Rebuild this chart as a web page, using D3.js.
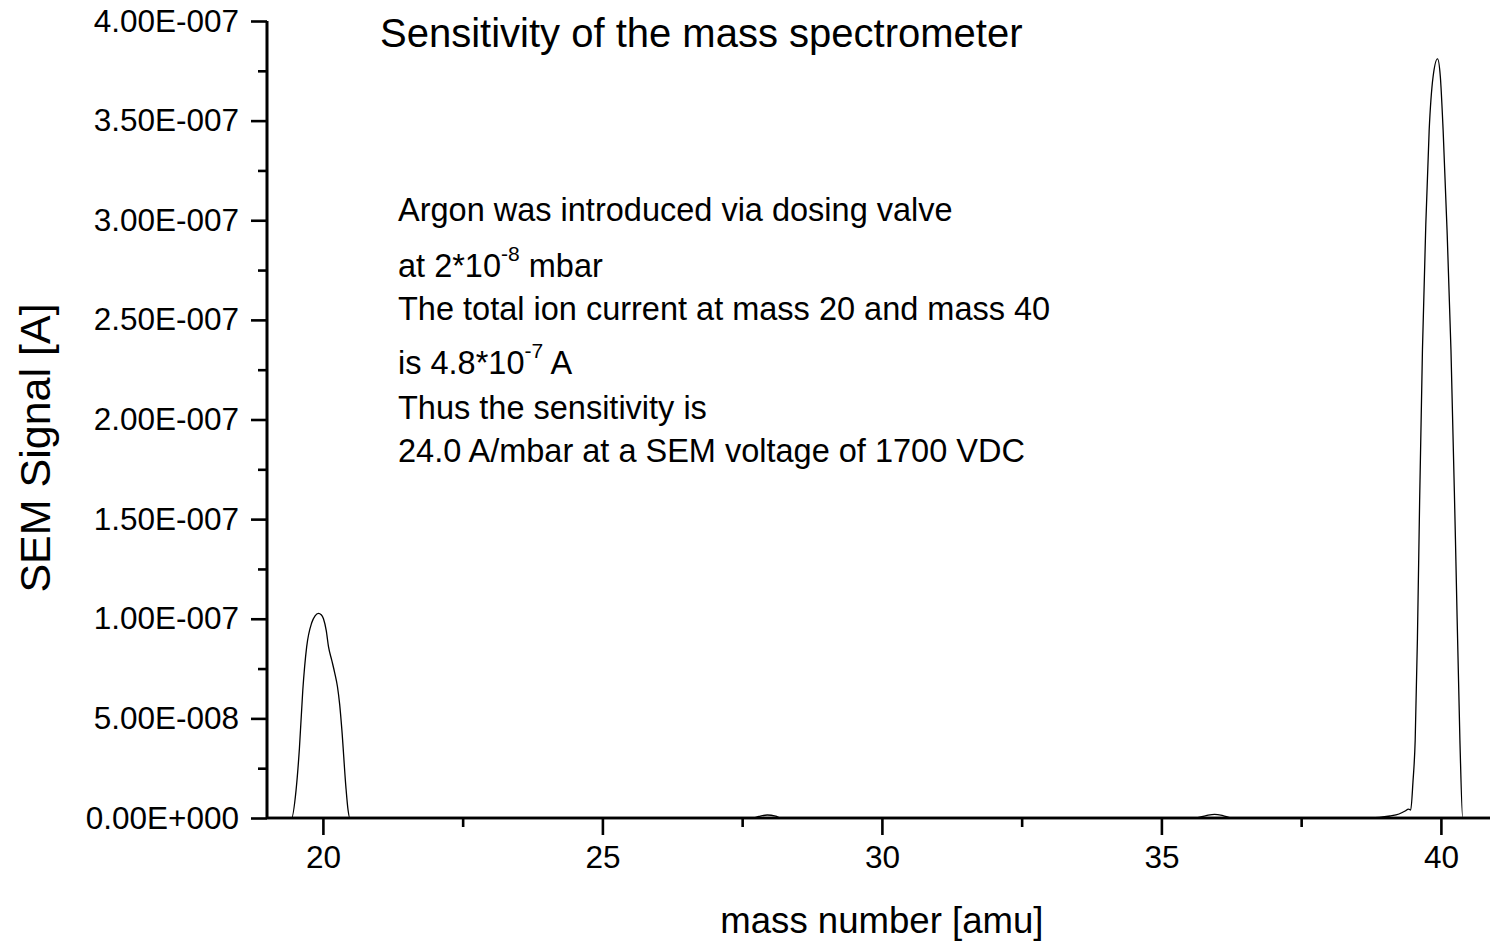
<!DOCTYPE html>
<html>
<head>
<meta charset="utf-8">
<script src="https://cdn.jsdelivr.net/npm/d3@7"></script>
<style>
  html, body { margin: 0; padding: 0; background: #fff; }
  svg { display: block; font-family: "Liberation Sans", Arial, sans-serif; }
</style>
</head>
<body>
<svg id="chart" width="1490" height="947"></svg>
<script>
// Mass scan, mass number [amu]
const mass = [
  19.00, 19.30, 19.44, 19.52, 19.58, 19.64, 19.71, 19.80, 19.86, 19.92, 19.97,
  20.01, 20.06, 20.10, 20.16, 20.21, 20.26, 20.30, 20.34, 20.41, 20.45, 20.48,
  21.50, 24.00, 27.00, 27.69, 27.80, 27.95, 28.10, 28.20, 30.00, 33.00, 35.60,
  35.80, 35.95, 36.10, 36.26, 37.50, 38.60, 38.90, 39.09, 39.25, 39.36, 39.42,
  39.46, 39.50, 39.54, 39.58, 39.62, 39.67, 39.73, 39.79, 39.86, 39.94, 39.99,
  40.04, 40.11, 40.18, 40.26, 40.34, 40.39, 40.70, 41.00
];
// SEM signal [A] at each mass
const signal = [
  0, 0, 0, 1.4e-8, 3.5e-8, 6.4e-8, 8.6e-8, 9.8e-8, 1.015e-7, 1.027e-7, 1.02e-7,
  1.0e-7, 9.4e-8, 8.6e-8, 7.9e-8, 7.3e-8, 6.6e-8, 5.7e-8, 4.4e-8, 1.6e-8, 4e-9, 0,
  0, 0, 0, 0, 8e-10, 1.5e-9, 9e-10, 0, 0, 0, 0,
  1.2e-9, 1.8e-9, 1.2e-9, 0, 0, 0, 3e-10, 1e-9, 2e-9, 3.5e-9, 4.5e-9,
  4e-9, 1.8e-8, 3.9e-8, 9e-8, 1.6e-7, 2.35e-7, 2.98e-7, 3.45e-7, 3.72e-7, 3.81e-7, 3.72e-7,
  3.45e-7, 2.95e-7, 2.35e-7, 1.4e-7, 3.9e-8, 0, 0, 0
];

const xTicks = [20, 25, 30, 35, 40];
const xMinorTicks = [22.5, 27.5, 32.5, 37.5];
const yTicks = [0, 5e-8, 1e-7, 1.5e-7, 2e-7, 2.5e-7, 3e-7, 3.5e-7, 4e-7];
const yMinorTicks = [2.5e-8, 7.5e-8, 1.25e-7, 1.75e-7, 2.25e-7, 2.75e-7, 3.25e-7, 3.75e-7];

const titleText = "Sensitivity of the mass spectrometer";
const xTitle = "mass number [amu]";
const yTitle = "SEM Signal [A]";
// Annotation lines: [text, superscript, trailing text]
const notes = [
  ["Argon was introduced via dosing valve", "", ""],
  ["at 2*10", "-8", " mbar"],
  ["The total ion current at mass 20 and mass 40", "", ""],
  ["is 4.8*10", "-7", " A"],
  ["Thus the sensitivity is", "", ""],
  ["24.0 A/mbar at a SEM voltage of 1700 VDC", "", ""]
];

const svg = d3.select("#chart");
const x = d3.scaleLinear().domain([19, 41]).range([267, 1496.8]);
const y = d3.scaleLinear().domain([0, 4e-7]).range([818, 21]);

// Origin-style scientific labels, e.g. 4.00E-007
function sci(v) {
  const [m, e] = v.toExponential(2).split("e");
  const n = parseInt(e, 10);
  return m + "E" + (n < 0 ? "-" : "+") + String(Math.abs(n)).padStart(3, "0");
}

// curve
const pts = mass.map((m, i) => [m, signal[i]]);
svg.append("path")
  .datum(pts)
  .attr("fill", "none")
  .attr("stroke", "#000")
  .attr("stroke-width", 1.3)
  .attr("d", d3.line().x(d => x(d[0])).y(d => y(d[1])).curve(d3.curveMonotoneX));

// x axis
const gx = svg.append("g").attr("transform", "translate(0,818)");
gx.call(d3.axisBottom(x).tickValues(xTicks).tickSize(17).tickPadding(11).tickFormat(d3.format("d")));
gx.append("g").call(d3.axisBottom(x).tickValues(xMinorTicks).tickSize(9).tickFormat(""));
gx.selectAll(".domain").attr("d", "M267,0H1490");

// y axis
const gy = svg.append("g").attr("transform", "translate(267,0)");
gy.call(d3.axisLeft(y).tickValues(yTicks).tickSize(16).tickPadding(12).tickFormat(sci));
gy.append("g").call(d3.axisLeft(y).tickValues(yMinorTicks).tickSize(9).tickFormat(""));
gy.selectAll(".domain").attr("d", "M0,818V21");

svg.selectAll(".domain").attr("stroke", "#000").attr("stroke-width", 2.6);
svg.selectAll(".tick line").attr("stroke", "#000").attr("stroke-width", 2.6);
svg.selectAll(".tick text")
  .attr("fill", "#000")
  .style("font-size", "31.5px")
  .style("font-family", '"Liberation Sans", Arial, sans-serif');

// titles
svg.append("text")
  .attr("x", 380).attr("y", 47)
  .style("font-size", "40px")
  .text(titleText);

svg.append("text")
  .attr("x", x(30)).attr("y", 933)
  .attr("text-anchor", "middle")
  .style("font-size", "36.6px")
  .text(xTitle);

svg.append("text")
  .attr("transform", "translate(50,448) rotate(-90)")
  .attr("text-anchor", "middle")
  .style("font-size", "43px")
  .text(yTitle);

// annotation block
const baselines = [221, 277, 320, 374, 419, 462];
notes.forEach((n, i) => {
  const t = svg.append("text")
    .attr("x", 398).attr("y", baselines[i])
    .style("font-size", "32.5px");
  t.append("tspan").text(n[0]);
  if (n[1]) {
    t.append("tspan").attr("dy", -16).style("font-size", "21px").text(n[1]);
    t.append("tspan").attr("dy", 16).text(n[2]);
  }
});
</script>
</body>
</html>
